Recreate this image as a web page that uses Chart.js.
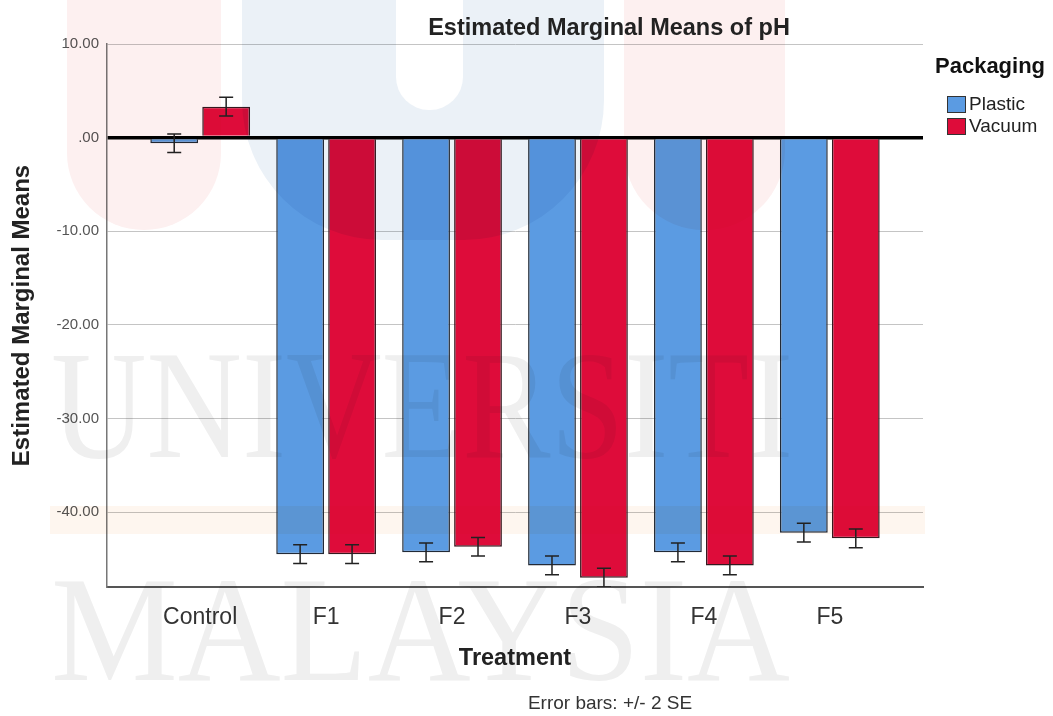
<!DOCTYPE html>
<html>
<head>
<meta charset="utf-8">
<script src="https://cdn.jsdelivr.net/npm/chart.js@4/dist/chart.umd.min.js"></script>
<style>
  html, body { margin: 0; padding: 0; background: #fff; }
  #wrap { position: relative; width: 1053px; height: 716px; overflow: hidden; font-family: "Liberation Sans", Arial, sans-serif; }
  #chart { position: absolute; left: 0; top: 0; }
  #mark { position: absolute; left: 0; top: 0; mix-blend-mode: multiply; pointer-events: none; }
  .txt { position: absolute; transform: translate(-50%, -50%); white-space: nowrap; }
  #title { left: 609px; top: 27px; font-size: 23.5px; font-weight: bold; color: #222; }
  #note { left: 610px; top: 703px; font-size: 19px; color: #333; }
  #legend { position: absolute; left: 935px; top: 52px; color: #222; }
  #legend .head { font-size: 22px; font-weight: bold; color: #111; line-height: 28px; margin-bottom: 13px; }
  #legend .item { position: relative; height: 22px; line-height: 22px; font-size: 19px; padding-left: 34px; }
  #legend .box { position: absolute; left: 12px; top: 3px; width: 17px; height: 15px; border: 1px solid #333; }
</style>
</head>
<body>
<div id="wrap">
  <canvas id="chart" width="1053" height="716"></canvas>
  <svg id="mark" width="1053" height="716">
    <rect x="67" y="-120" width="154" height="350" rx="77" fill="#fdf0f0"/>
    <rect x="242" y="-160" width="362" height="400" rx="140" fill="#ebf1f7"/>
    <rect x="396" y="-80" width="67" height="190" rx="33" fill="#ffffff"/>
    <rect x="624" y="-120" width="161" height="350" rx="80" fill="#fdf0f0"/>
    <rect x="50" y="506" width="875" height="28" fill="#fef6ef"/>
    <text x="51" y="457" font-family="Liberation Serif, DejaVu Serif, serif" font-size="155" fill="#efefef"
          textLength="742" lengthAdjust="spacingAndGlyphs">UNIVERSITI</text>
    <text x="51" y="680" font-family="Liberation Serif, DejaVu Serif, serif" font-size="150" fill="#efefef"
          textLength="739" lengthAdjust="spacingAndGlyphs">MALAYSIA</text>
  </svg>
  <div id="title" class="txt">Estimated Marginal Means of pH</div>
  <div id="note" class="txt">Error bars: +/- 2 SE</div>
  <div id="legend"></div>
</div>
<script>
const treatments = ["Control", "F1", "F2", "F3", "F4", "F5"];
const plastic = [-0.6, -44.5, -44.3, -45.7, -44.3, -42.2];
const vacuum = [3.3, -44.5, -43.7, -47.0, -45.7, -42.8];
const plasticErr = [1.0, 1.0, 1.0, 1.0, 1.0, 1.0];
const vacuumErr = [1.0, 1.0, 1.0, 1.0, 1.0, 1.0];
const yTicks = [10, 0, -10, -20, -30, -40];

const FONT = "'Liberation Sans', Arial, sans-serif";
const BLUE = "#5b9be2";
const RED = "#de0c3a";

// SPSS style whiskers, drawn from the y scale
const errorBars = {
    id: "errorBars",
    afterDatasetsDraw(chart) {
        const { ctx, chartArea } = chart;
        const yScale = chart.scales.y;
        ctx.save();
        ctx.beginPath();
        ctx.rect(chartArea.left, chartArea.top, chartArea.right - chartArea.left, chartArea.bottom - chartArea.top);
        ctx.clip();
        ctx.strokeStyle = "#222";
        ctx.lineWidth = 1.5;
        chart.data.datasets.forEach((ds, i) => {
            chart.getDatasetMeta(i).data.forEach((bar, j) => {
                const v = ds.data[j].y;
                const e = ds.errors[j];
                const top = yScale.getPixelForValue(v + e);
                const bot = yScale.getPixelForValue(v - e);
                const x = bar.x;
                ctx.beginPath();
                ctx.moveTo(x, top); ctx.lineTo(x, bot);
                ctx.moveTo(x - 7, top); ctx.lineTo(x + 7, top);
                ctx.moveTo(x - 7, bot); ctx.lineTo(x + 7, bot);
                ctx.stroke();
            });
        });
        ctx.restore();
    }
};

const chart = new Chart(document.getElementById("chart"), {
    type: "bar",
    data: {
        datasets: [
            {
                label: "Plastic",
                data: plastic.map((v, i) => ({ x: i, y: v })),
                errors: plasticErr,
                backgroundColor: BLUE,
                borderColor: "#222a36",
                borderWidth: 1.5
            },
            {
                label: "Vacuum",
                data: vacuum.map((v, i) => ({ x: i, y: v })),
                errors: vacuumErr,
                backgroundColor: RED,
                borderColor: "#35191f",
                borderWidth: 1.5
            }
        ]
    },
    options: {
        responsive: false,
        animation: false,
        categoryPercentage: 0.825,
        barPercentage: 0.92,
        layout: { padding: { top: 44, right: 130, bottom: 0, left: 0 } },
        scales: {
            x: {
                type: "linear",
                offset: false,
                min: -0.74,
                max: 5.74,
                afterBuildTicks: (scale) => { scale.ticks = treatments.map((t, i) => ({ value: i })); },
                afterFit: (scale) => { scale.height = 129; },
                grid: { display: false },
                border: { display: true, color: "#555", width: 2 },
                ticks: {
                    callback: (v) => treatments[v],
                    font: { family: FONT, size: 23 },
                    color: "#333",
                    padding: 9,
                    maxRotation: 0,
                    autoSkip: false
                },
                title: {
                    display: true,
                    text: "Treatment",
                    font: { family: FONT, size: 23.5, weight: "bold" },
                    color: "#222",
                    padding: { top: 0, bottom: 43 }
                }
            },
            y: {
                min: -48,
                max: 10,
                afterBuildTicks: (scale) => { scale.ticks = yTicks.map((v) => ({ value: v })); },
                afterFit: (scale) => { scale.width = 107; },
                grid: {
                    drawTicks: false,
                    color: (c) => (c.tick && c.tick.value === 0 ? "#000" : "#c4c4c4"),
                    lineWidth: (c) => (c.tick && c.tick.value === 0 ? 3.5 : 1)
                },
                border: { display: true, color: "#777", width: 1.5 },
                ticks: {
                    callback: (v) => (v === 0 ? ".00" : v.toFixed(2)),
                    font: { family: FONT, size: 15 },
                    color: "#555",
                    padding: 8
                },
                title: {
                    display: true,
                    text: "Estimated Marginal Means",
                    font: { family: FONT, size: 24, weight: "bold" },
                    color: "#222",
                    padding: { top: 8, bottom: 0 }
                }
            }
        },
        plugins: {
            legend: { display: false },
            tooltip: { enabled: false }
        }
    },
    plugins: [errorBars]
});

// legend built from the chart's own datasets
const legend = document.getElementById("legend");
legend.innerHTML = '<div class="head">Packaging</div>' +
    chart.data.datasets.map((ds) =>
        `<div class="item"><span class="box" style="background:${ds.backgroundColor}"></span>${ds.label}</div>`
    ).join("");
</script>
</body>
</html>
